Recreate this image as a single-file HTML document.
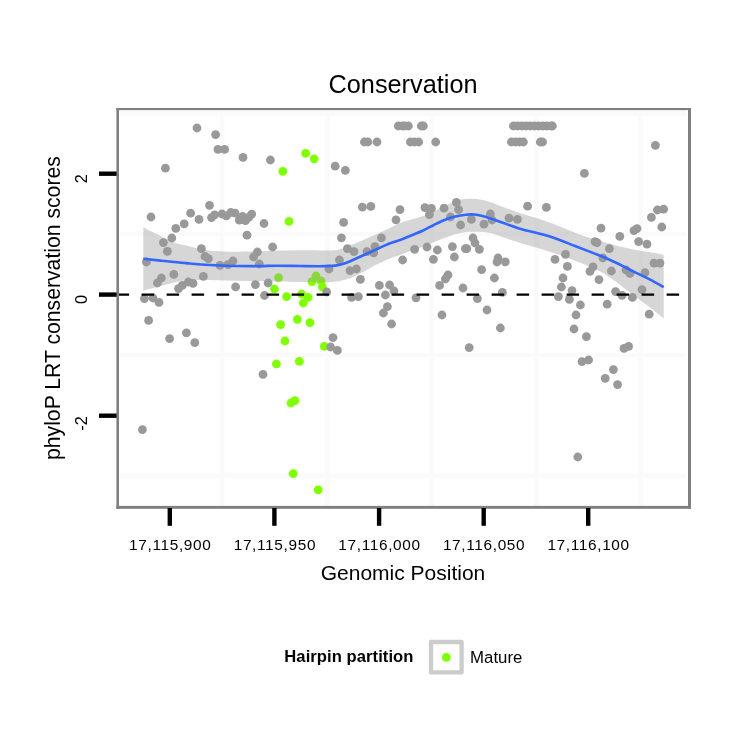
<!DOCTYPE html>
<html lang="en">
<head>
<meta charset="utf-8">
<title>Conservation</title>
<style>
html,body{margin:0;padding:0;background:#fff;}
body{width:750px;height:750px;overflow:hidden;}
svg{display:block;}
text{font-family:"Liberation Sans",Arial,Helvetica,sans-serif;fill:#000;}
</style>
</head>
<body>
<svg width="750" height="750" viewBox="0 0 750 750">
<rect x="0" y="0" width="750" height="750" fill="#ffffff"/>

<g stroke="#fafafa" stroke-width="4.4" fill="none">
<line x1="222.2" y1="109" x2="222.2" y2="507" />
<line x1="327" y1="109" x2="327" y2="507" />
<line x1="431.6" y1="109" x2="431.6" y2="507" />
<line x1="536.5" y1="109" x2="536.5" y2="507" />
<line x1="641" y1="109" x2="641" y2="507" />
<line x1="120" y1="234" x2="686" y2="234" />
<line x1="120" y1="355" x2="686" y2="355" />
<line x1="120" y1="475.7" x2="686" y2="475.7" />
<line x1="120" y1="112.8" x2="686" y2="112.8" stroke-width="5.4"/>
</g>
<g fill="#999999">
<circle cx="197" cy="128" r="4.4"/>
<circle cx="215.6" cy="134.6" r="4.4"/>
<circle cx="218" cy="149.4" r="4.4"/>
<circle cx="224.6" cy="149.4" r="4.4"/>
<circle cx="243" cy="157.4" r="4.4"/>
<circle cx="165.4" cy="168.2" r="4.4"/>
<circle cx="151" cy="217" r="4.4"/>
<circle cx="190.6" cy="213.2" r="4.4"/>
<circle cx="199" cy="219.4" r="4.4"/>
<circle cx="184.2" cy="223.8" r="4.4"/>
<circle cx="175.8" cy="228.4" r="4.4"/>
<circle cx="171.8" cy="238" r="4.4"/>
<circle cx="163.4" cy="242.6" r="4.4"/>
<circle cx="167.4" cy="251.4" r="4.4"/>
<circle cx="201.4" cy="248.7" r="4.4"/>
<circle cx="205" cy="256.5" r="4.4"/>
<circle cx="247" cy="235.2" r="4.4"/>
<circle cx="257.4" cy="252" r="4.4"/>
<circle cx="209.5" cy="205.3" r="4.4"/>
<circle cx="211.5" cy="217.6" r="4.4"/>
<circle cx="214.6" cy="214.8" r="4.4"/>
<circle cx="222" cy="214" r="4.4"/>
<circle cx="226.3" cy="215.9" r="4.4"/>
<circle cx="230.8" cy="212.5" r="4.4"/>
<circle cx="235.1" cy="213.2" r="4.4"/>
<circle cx="239.3" cy="220.2" r="4.4"/>
<circle cx="242.6" cy="216.5" r="4.4"/>
<circle cx="245.4" cy="220.7" r="4.4"/>
<circle cx="248.7" cy="217.4" r="4.4"/>
<circle cx="251.7" cy="214.1" r="4.4"/>
<circle cx="264" cy="223.5" r="4.4"/>
<circle cx="270.4" cy="160" r="4.4"/>
<circle cx="272.6" cy="247" r="4.4"/>
<circle cx="335.2" cy="166.2" r="4.4"/>
<circle cx="345.4" cy="170.4" r="4.4"/>
<circle cx="343.6" cy="222.4" r="4.4"/>
<circle cx="341.4" cy="237.8" r="4.4"/>
<circle cx="362.4" cy="207.2" r="4.4"/>
<circle cx="370.8" cy="206.4" r="4.4"/>
<circle cx="400" cy="209.6" r="4.4"/>
<circle cx="396" cy="219.8" r="4.4"/>
<circle cx="381.4" cy="237.8" r="4.4"/>
<circle cx="347.4" cy="248.6" r="4.4"/>
<circle cx="354" cy="251.6" r="4.4"/>
<circle cx="375" cy="246.6" r="4.4"/>
<circle cx="367" cy="251.6" r="4.4"/>
<circle cx="414.6" cy="249.3" r="4.4"/>
<circle cx="398.3" cy="126" r="4.4"/>
<circle cx="402.5" cy="126" r="4.4"/>
<circle cx="404.6" cy="126" r="4.4"/>
<circle cx="408.4" cy="126" r="4.4"/>
<circle cx="421.3" cy="126" r="4.4"/>
<circle cx="423.4" cy="126" r="4.4"/>
<circle cx="364.4" cy="142" r="4.4"/>
<circle cx="367.9" cy="142" r="4.4"/>
<circle cx="377" cy="142" r="4.4"/>
<circle cx="410.4" cy="142" r="4.4"/>
<circle cx="414.5" cy="142" r="4.4"/>
<circle cx="418.7" cy="142" r="4.4"/>
<circle cx="435.7" cy="142" r="4.4"/>
<circle cx="513.4" cy="126" r="4.4"/>
<circle cx="517.6" cy="126" r="4.4"/>
<circle cx="521.8" cy="126" r="4.4"/>
<circle cx="526" cy="126" r="4.4"/>
<circle cx="530.2" cy="126" r="4.4"/>
<circle cx="534.4" cy="126" r="4.4"/>
<circle cx="538.5" cy="126" r="4.4"/>
<circle cx="542.7" cy="126" r="4.4"/>
<circle cx="546.9" cy="126" r="4.4"/>
<circle cx="551" cy="126" r="4.4"/>
<circle cx="552.4" cy="126" r="4.4"/>
<circle cx="511.4" cy="142" r="4.4"/>
<circle cx="515.5" cy="142" r="4.4"/>
<circle cx="519.5" cy="142" r="4.4"/>
<circle cx="523.4" cy="142" r="4.4"/>
<circle cx="540.3" cy="142" r="4.4"/>
<circle cx="542.6" cy="142" r="4.4"/>
<circle cx="425" cy="207.6" r="4.4"/>
<circle cx="431.4" cy="208.4" r="4.4"/>
<circle cx="429.4" cy="214.6" r="4.4"/>
<circle cx="444" cy="208.2" r="4.4"/>
<circle cx="456.4" cy="202.4" r="4.4"/>
<circle cx="458.6" cy="209.6" r="4.4"/>
<circle cx="450.4" cy="217" r="4.4"/>
<circle cx="460.6" cy="225" r="4.4"/>
<circle cx="471.4" cy="219.4" r="4.4"/>
<circle cx="484" cy="224.2" r="4.4"/>
<circle cx="490.4" cy="214" r="4.4"/>
<circle cx="492" cy="220" r="4.4"/>
<circle cx="509" cy="218.2" r="4.4"/>
<circle cx="517.4" cy="219.4" r="4.4"/>
<circle cx="527.6" cy="206.2" r="4.4"/>
<circle cx="546.4" cy="207.4" r="4.4"/>
<circle cx="427" cy="247" r="4.4"/>
<circle cx="437.4" cy="250" r="4.4"/>
<circle cx="452.4" cy="246.6" r="4.4"/>
<circle cx="465.4" cy="248.6" r="4.4"/>
<circle cx="466.8" cy="248.6" r="4.4"/>
<circle cx="473" cy="238" r="4.4"/>
<circle cx="475" cy="243" r="4.4"/>
<circle cx="479.4" cy="249.4" r="4.4"/>
<circle cx="565.5" cy="254.3" r="4.4"/>
<circle cx="655.4" cy="145.4" r="4.4"/>
<circle cx="584.4" cy="173.4" r="4.4"/>
<circle cx="657.4" cy="210" r="4.4"/>
<circle cx="663.6" cy="209.2" r="4.4"/>
<circle cx="651.4" cy="217.4" r="4.4"/>
<circle cx="661.8" cy="227" r="4.4"/>
<circle cx="601" cy="228.2" r="4.4"/>
<circle cx="634" cy="230.6" r="4.4"/>
<circle cx="637" cy="228.6" r="4.4"/>
<circle cx="619.8" cy="236.4" r="4.4"/>
<circle cx="638.6" cy="241.6" r="4.4"/>
<circle cx="647" cy="244.2" r="4.4"/>
<circle cx="595" cy="241.6" r="4.4"/>
<circle cx="597" cy="242.6" r="4.4"/>
<circle cx="609.4" cy="248.6" r="4.4"/>
<circle cx="146.4" cy="262" r="4.4"/>
<circle cx="161.4" cy="278" r="4.4"/>
<circle cx="157.4" cy="283" r="4.4"/>
<circle cx="173.8" cy="274.4" r="4.4"/>
<circle cx="178.5" cy="288.6" r="4.4"/>
<circle cx="182.3" cy="285.4" r="4.4"/>
<circle cx="188.3" cy="282" r="4.4"/>
<circle cx="193" cy="283.3" r="4.4"/>
<circle cx="203.4" cy="276.4" r="4.4"/>
<circle cx="208.3" cy="258.7" r="4.4"/>
<circle cx="220" cy="265.4" r="4.4"/>
<circle cx="228" cy="264.6" r="4.4"/>
<circle cx="233" cy="261" r="4.4"/>
<circle cx="253.6" cy="257" r="4.4"/>
<circle cx="259.4" cy="264" r="4.4"/>
<circle cx="235.6" cy="286.9" r="4.4"/>
<circle cx="255.4" cy="284.6" r="4.4"/>
<circle cx="264.5" cy="295.5" r="4.4"/>
<circle cx="144.4" cy="298.6" r="4.4"/>
<circle cx="153" cy="298" r="4.4"/>
<circle cx="159" cy="302.4" r="4.4"/>
<circle cx="148.6" cy="320.4" r="4.4"/>
<circle cx="169.6" cy="338.6" r="4.4"/>
<circle cx="186.4" cy="332.8" r="4.4"/>
<circle cx="194.8" cy="342.6" r="4.4"/>
<circle cx="263" cy="374.4" r="4.4"/>
<circle cx="268.1" cy="283" r="4.4"/>
<circle cx="333" cy="337.6" r="4.4"/>
<circle cx="337.4" cy="350.4" r="4.4"/>
<circle cx="339.4" cy="260" r="4.4"/>
<circle cx="329" cy="269" r="4.4"/>
<circle cx="350" cy="270.6" r="4.4"/>
<circle cx="356.4" cy="269" r="4.4"/>
<circle cx="360.4" cy="279.4" r="4.4"/>
<circle cx="402.6" cy="260" r="4.4"/>
<circle cx="373.7" cy="252.9" r="4.4"/>
<circle cx="379.4" cy="285.4" r="4.4"/>
<circle cx="389.6" cy="285" r="4.4"/>
<circle cx="394" cy="291" r="4.4"/>
<circle cx="385.4" cy="295" r="4.4"/>
<circle cx="351.6" cy="297.4" r="4.4"/>
<circle cx="358.4" cy="296.6" r="4.4"/>
<circle cx="387.4" cy="306.6" r="4.4"/>
<circle cx="383.4" cy="313" r="4.4"/>
<circle cx="391.6" cy="324" r="4.4"/>
<circle cx="416" cy="297.8" r="4.4"/>
<circle cx="433.4" cy="259.4" r="4.4"/>
<circle cx="454.4" cy="257" r="4.4"/>
<circle cx="448" cy="275" r="4.4"/>
<circle cx="445.4" cy="279" r="4.4"/>
<circle cx="439.6" cy="285.4" r="4.4"/>
<circle cx="463" cy="288" r="4.4"/>
<circle cx="442" cy="315" r="4.4"/>
<circle cx="477.4" cy="298.6" r="4.4"/>
<circle cx="481.6" cy="269.6" r="4.4"/>
<circle cx="494.4" cy="278" r="4.4"/>
<circle cx="497" cy="262" r="4.4"/>
<circle cx="498" cy="258" r="4.4"/>
<circle cx="505.3" cy="261.8" r="4.4"/>
<circle cx="502.4" cy="292.4" r="4.4"/>
<circle cx="487" cy="310" r="4.4"/>
<circle cx="500.4" cy="328" r="4.4"/>
<circle cx="469.2" cy="347.6" r="4.4"/>
<circle cx="555" cy="259.4" r="4.4"/>
<circle cx="563" cy="278" r="4.4"/>
<circle cx="561.4" cy="287" r="4.4"/>
<circle cx="558.4" cy="296.6" r="4.4"/>
<circle cx="567.4" cy="266.4" r="4.4"/>
<circle cx="593" cy="266.8" r="4.4"/>
<circle cx="590" cy="271.4" r="4.4"/>
<circle cx="603" cy="258" r="4.4"/>
<circle cx="611.4" cy="271" r="4.4"/>
<circle cx="599" cy="279.6" r="4.4"/>
<circle cx="626" cy="270" r="4.4"/>
<circle cx="630" cy="273.4" r="4.4"/>
<circle cx="645" cy="272.6" r="4.4"/>
<circle cx="654" cy="263.1" r="4.4"/>
<circle cx="660" cy="263.1" r="4.4"/>
<circle cx="572" cy="290.6" r="4.4"/>
<circle cx="569.4" cy="299.4" r="4.4"/>
<circle cx="580.4" cy="305" r="4.4"/>
<circle cx="576" cy="315" r="4.4"/>
<circle cx="574" cy="329" r="4.4"/>
<circle cx="586.4" cy="336.6" r="4.4"/>
<circle cx="615.6" cy="291.6" r="4.4"/>
<circle cx="622" cy="295.4" r="4.4"/>
<circle cx="632.4" cy="297.4" r="4.4"/>
<circle cx="607.2" cy="304.2" r="4.4"/>
<circle cx="642" cy="289.6" r="4.4"/>
<circle cx="649.2" cy="314.2" r="4.4"/>
<circle cx="624" cy="348.4" r="4.4"/>
<circle cx="628.6" cy="346.4" r="4.4"/>
<circle cx="582" cy="361.6" r="4.4"/>
<circle cx="588.6" cy="360" r="4.4"/>
<circle cx="613.4" cy="369.6" r="4.4"/>
<circle cx="605.2" cy="378.4" r="4.4"/>
<circle cx="617.6" cy="384.6" r="4.4"/>
<circle cx="142.4" cy="429.6" r="4.4"/>
<circle cx="577.8" cy="457" r="4.4"/>
</g>
<g fill="#7fff00">
<circle cx="305.6" cy="153.4" r="4.4"/>
<circle cx="314.2" cy="158.8" r="4.4"/>
<circle cx="282.8" cy="171.4" r="4.4"/>
<circle cx="289" cy="221.4" r="4.4"/>
<circle cx="278.6" cy="277.6" r="4.4"/>
<circle cx="274.4" cy="289" r="4.4"/>
<circle cx="286.6" cy="296.6" r="4.4"/>
<circle cx="301.6" cy="294" r="4.4"/>
<circle cx="308" cy="297.4" r="4.4"/>
<circle cx="303.4" cy="303" r="4.4"/>
<circle cx="316" cy="276" r="4.4"/>
<circle cx="312" cy="281.6" r="4.4"/>
<circle cx="321" cy="281" r="4.4"/>
<circle cx="322.4" cy="287" r="4.4"/>
<circle cx="297.4" cy="319.4" r="4.4"/>
<circle cx="310" cy="322.6" r="4.4"/>
<circle cx="280.6" cy="324.6" r="4.4"/>
<circle cx="285" cy="341" r="4.4"/>
<circle cx="324.4" cy="346.4" r="4.4"/>
<circle cx="299.4" cy="361.4" r="4.4"/>
<circle cx="276.4" cy="364" r="4.4"/>
<circle cx="295" cy="400.6" r="4.4"/>
<circle cx="291" cy="403" r="4.4"/>
<circle cx="293.2" cy="473.6" r="4.4"/>
<circle cx="318.2" cy="489.8" r="4.4"/>
</g>
<circle cx="330.6" cy="347" r="4.4" fill="#999999"/>
<circle cx="326.7" cy="292" r="4.4" fill="#999999"/>
<path fill="#999999" fill-opacity="0.4" d="M143.3,227.3C145.2,228.3 149.7,230.7 155,233.3C160.3,235.9 169.4,240.6 175,242.7C180.6,244.8 183.9,244.9 188.3,246C192.8,247.1 197.2,248.4 201.7,249.2C206.1,250 209.4,250.6 215,251C220.6,251.4 227.5,251.8 235,251.8C242.5,251.8 251.7,251.4 260,251.2C268.3,251 276.7,250.7 285,250.5C293.3,250.3 301.7,250.2 310,250.2C318.3,250.1 328.6,250.9 335,250.2C341.4,249.5 343.9,247.6 348.3,246C352.8,244.4 357.2,242.6 361.7,240.7C366.1,238.8 370.6,236.7 375,234.7C379.4,232.7 384.1,230.6 388.3,228.7C392.5,226.8 396.1,224.5 400,223C403.9,221.5 408,220.6 411.6,219.5C415.2,218.4 418.8,217.7 421.8,216.6C424.8,215.5 427.1,214.2 429.8,213C432.5,211.8 435.1,210.7 437.8,209.4C440.5,208.1 443.1,206.7 445.8,205.4C448.5,204.1 451.1,202.8 453.8,201.8C456.5,200.8 459.1,199.9 461.8,199.4C464.5,198.9 467.3,198.9 469.8,198.8C472.3,198.8 473.6,198.6 476.8,199.1C480,199.6 485.1,200.6 489.2,201.8C493.3,203 497.4,204.9 501.7,206.5C506,208.1 510.6,209.8 515,211.3C519.4,212.9 525,214.8 528.3,215.8C531.6,216.8 531.7,216.5 535,217.5C538.3,218.5 543.8,220.4 548.3,222C552.8,223.6 557.2,225.5 561.7,227.3C566.2,229.1 570.6,231 575,232.7C579.4,234.4 583.8,236.1 588.3,237.6C592.8,239.1 597.5,240.4 601.7,241.6C605.9,242.8 609.1,243.6 613.3,244.7C617.5,245.8 622.2,247 626.7,248C631.2,249 635.6,249.9 640,250.7C644.4,251.5 649.3,252 653.3,252.7C657.2,253.4 662,254.4 663.7,254.7L663.7,318.7C662,317.2 657.2,313.1 653.3,310C649.3,306.9 644.4,303.3 640,300C635.6,296.7 631.2,293.3 626.7,290C622.2,286.7 617.5,282.9 613.3,280C609.1,277.1 605.9,274.6 601.7,272.3C597.5,270 592.8,267.9 588.3,266C583.8,264.1 579.4,262.4 575,260.7C570.6,259 566.2,257.3 561.7,255.7C557.2,254.1 552.8,252.7 548.3,251.3C543.8,249.9 538.3,248.3 535,247.3C531.7,246.3 531.6,246.3 528.3,245.3C525,244.3 519.4,242.7 515,241.3C510.6,239.9 506,238.1 501.7,236.7C497.4,235.3 493.4,233.6 489.2,232.8C485,232 480.4,231.9 476.5,231.8C472.6,231.7 469.4,231.7 465.8,232.1C462.2,232.5 458.7,233.3 455.1,234.3C451.6,235.3 448.4,236.6 444.5,238C440.6,239.4 435.6,241.4 431.7,243C427.8,244.6 424.5,246.2 421,247.5C417.5,248.8 414,249.7 410.9,250.8C407.8,251.9 406.4,252.6 402.6,254C398.8,255.4 392.9,257.4 388.3,259.3C383.7,261.2 379.4,263.1 375,265.3C370.6,267.5 366.1,270.5 361.7,272.7C357.2,274.9 352.8,277.2 348.3,278.7C343.9,280.2 339.7,281.1 335,281.7C330.3,282.3 325.3,282.3 320,282.4C314.7,282.4 310.5,282.2 303.3,282C296.1,281.8 285.6,281.6 276.7,281.4C267.8,281.2 258.9,281.2 250,281C241.1,280.8 232.2,280.6 223.3,280.4C214.4,280.2 203.4,279.8 196.7,279.9C190,280 187.4,280.2 183,280.8C178.6,281.4 174.3,282.5 170,283.5C165.7,284.5 161.4,285.8 157,287C152.6,288.2 145.6,290.1 143.3,290.7Z"/>
<path fill="none" stroke="#3366ff" stroke-width="2.6" stroke-linejoin="round" d="M143.3,258.8C146.4,259.1 154.2,260 161.7,260.8C169.2,261.6 179.4,262.6 188.3,263.4C197.2,264.1 207.2,264.9 215,265.3C222.8,265.7 227.5,265.9 235,266C242.5,266.1 253.2,266.2 260,266.1C266.8,266.1 269.3,265.7 276,265.7C282.7,265.7 292.7,265.9 300,266C307.3,266.1 314.2,266.3 320,266.2C325.8,266.1 331.4,265.9 335,265.6C338.6,265.3 339.5,264.9 341.7,264.3C343.9,263.7 345,263.4 348.3,262C351.6,260.6 357.2,258 361.7,256C366.1,254 370.6,252 375,250C379.4,248 383.7,245.8 388.3,244C392.9,242.2 398.7,240.5 402.6,239C406.5,237.5 408.2,236.6 411.6,235.2C415,233.8 419.4,232.2 423.1,230.5C426.8,228.8 430.2,226.8 433.8,225C437.4,223.2 440.9,221.4 444.5,220C448.1,218.6 451.6,217.5 455.1,216.6C458.7,215.7 462.6,215 465.8,214.7C469,214.3 471.5,214.3 474.3,214.5C477.1,214.7 479.2,215.2 482.6,216.1C486.1,217 490.7,218.6 495,220C499.3,221.4 503.9,223.1 508.3,224.7C512.8,226.2 517.2,228 521.7,229.3C526.2,230.6 530.6,231.4 535,232.5C539.4,233.6 543.8,234.6 548.3,236C552.8,237.4 557.2,239 561.7,240.7C566.2,242.4 570.6,244.3 575,246C579.4,247.7 583.8,249.4 588.3,251.1C592.8,252.8 597.5,254.6 601.7,256.3C605.9,258 609.1,259.6 613.3,261.5C617.5,263.4 622.2,265.8 626.7,268C631.2,270.2 635.6,272.5 640,274.7C644.4,276.9 649.3,279.2 653.3,281.3C657.2,283.4 662,286.1 663.7,287.1"/>
<line x1="116" y1="294.6" x2="690" y2="294.6" stroke="#000" stroke-width="2.2" stroke-dasharray="12.5 12.5" stroke-dashoffset="-0.6"/>
<g fill="#7f7f7f">
<rect x="116.4" y="108" width="574.6" height="2.1"/>
<rect x="116.4" y="505.9" width="574.6" height="2.9"/>
<rect x="116.4" y="108" width="2.6" height="400.8"/>
<rect x="688" y="108" width="3" height="400.8"/>
</g>
<g stroke="#000" stroke-width="4.4">
<line x1="169.8" y1="508" x2="169.8" y2="525.8"/>
<line x1="274.4" y1="508" x2="274.4" y2="525.8"/>
<line x1="379.1" y1="508" x2="379.1" y2="525.8"/>
<line x1="483.7" y1="508" x2="483.7" y2="525.8"/>
<line x1="588.2" y1="508" x2="588.2" y2="525.8"/>
<line x1="99" y1="173.7" x2="116.6" y2="173.7"/>
<line x1="99" y1="294.6" x2="116.6" y2="294.6"/>
<line x1="99" y1="415.7" x2="116.6" y2="415.7"/>
</g>
<g font-size="15.4" text-anchor="middle" letter-spacing="0.65">
<text x="170.3" y="550.1">17,115,900</text>
<text x="274.9" y="550.1">17,115,950</text>
<text x="379.5" y="550.1">17,116,000</text>
<text x="484.1" y="550.1">17,116,050</text>
<text x="588.6" y="550.1">17,116,100</text>
</g>
<g font-size="16.3" text-anchor="end">
<text transform="translate(87.3,174.2) rotate(-90)">2</text>
<text transform="translate(87.3,295) rotate(-90)">0</text>
<text transform="translate(87.3,416.2) rotate(-90)">-2</text>
</g>
<text x="403" y="92.7" font-size="25.3" text-anchor="middle">Conservation</text>
<text x="403" y="580" font-size="21" text-anchor="middle">Genomic Position</text>
<text transform="translate(59.7,308.1) rotate(-90)" font-size="21.2" text-anchor="middle">phyloP LRT conservation scores</text>
<text x="284.3" y="662.3" font-size="16.6" font-weight="bold" letter-spacing="0.06">Hairpin partition</text>
<rect x="431" y="642" width="30.6" height="30.4" fill="#fff" stroke="#cccccc" stroke-width="4.3" stroke-linejoin="round"/>
<circle cx="446.4" cy="657.4" r="4.4" fill="#7fff00"/>
<text x="470.1" y="662.6" font-size="16.8">Mature</text>
</svg>
</body>
</html>
